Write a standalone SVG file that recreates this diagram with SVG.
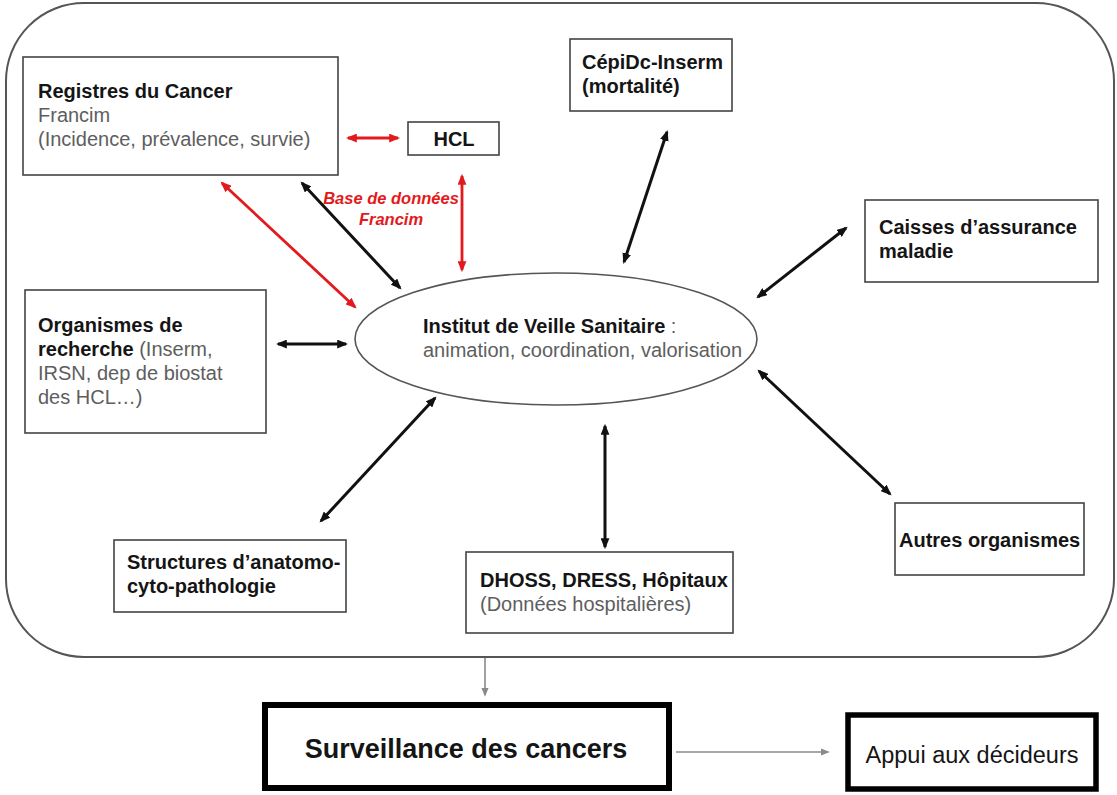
<svg xmlns="http://www.w3.org/2000/svg" width="1117" height="795" viewBox="0 0 1117 795">
<style>
text{font-family:"Liberation Sans",Arial,sans-serif;font-size:20px}
.b{font-weight:bold;fill:#151515}
.g{fill:#5e5e5e}
.box{fill:#fff;stroke:#444;stroke-width:1.6}
.thick{fill:#fff;stroke:#000;stroke-width:6}
.thick2{fill:#fff;stroke:#000;stroke-width:5.5}
.blk{stroke:#111;stroke-width:3;fill:none;marker-start:url(#ab);marker-end:url(#ab)}
.red{stroke:#e3191c;stroke-width:2.8;fill:none;marker-start:url(#ar);marker-end:url(#ar)}
.gry{stroke:#8a8a8a;stroke-width:1.6;fill:none;marker-end:url(#ag)}
.rt{font-size:16.5px;font-weight:bold;font-style:italic;fill:#e3191c}
</style>
<defs>
<marker id="ab" viewBox="0 0 10 8" refX="8" refY="4" markerWidth="11" markerHeight="9" markerUnits="userSpaceOnUse" orient="auto-start-reverse"><path d="M0,0 L10,4 L0,8 z" fill="#111"/></marker>
<marker id="ar" viewBox="0 0 10 8" refX="8" refY="4" markerWidth="11" markerHeight="9" markerUnits="userSpaceOnUse" orient="auto-start-reverse"><path d="M0,0 L10,4 L0,8 z" fill="#e3191c"/></marker>
<marker id="ag" viewBox="0 0 10 8" refX="8" refY="4" markerWidth="9" markerHeight="8" markerUnits="userSpaceOnUse" orient="auto"><path d="M0,0 L10,4 L0,8 z" fill="#8a8a8a"/></marker>
</defs>
<rect width="1117" height="795" fill="#fff"/>
<g id="frame"><rect x="6" y="3" width="1108" height="654" rx="78" ry="78" fill="none" stroke="#555" stroke-width="2"/></g>

<g id="connectors">
<path class="red" d="M348,138 L398,138"/>
<path class="red" d="M462,176 L462,270"/>
<path class="red" d="M222,183 L355,307"/>
<path class="blk" d="M302,183 L400,288"/>
<path class="blk" d="M667,132 L624,262"/>
<path class="blk" d="M846,228 L758,297"/>
<path class="blk" d="M278,344 L346,344"/>
<path class="blk" d="M321,521 L435,398"/>
<path class="blk" d="M605,426 L605,547"/>
<path class="blk" d="M890,494 L759,371"/>
<path class="gry" d="M485,658 L485,695"/>
<path class="gry" d="M676,752 L828,752"/>
</g>

<g id="label-base">
<text class="rt" x="391" y="204" text-anchor="middle">Base de données</text>
<text class="rt" x="391" y="225" text-anchor="middle">Francim</text>
</g>

<g id="registres">
<rect class="box" x="23" y="57" width="315" height="118"/>
<text class="b" x="38" y="98">Registres du Cancer</text>
<text class="g" x="38" y="122">Francim</text>
<text class="g" x="38" y="146">(Incidence, prévalence, survie)</text>
</g>

<g id="hcl">
<rect class="box" x="408" y="122" width="91" height="33"/>
<text class="b" x="454" y="146" text-anchor="middle">HCL</text>
</g>

<g id="cepidc">
<rect class="box" x="570" y="39" width="162" height="72"/>
<text class="b" x="582" y="69">CépiDc-Inserm</text>
<text class="b" x="582" y="93">(mortalité)</text>
</g>

<g id="caisses">
<rect class="box" x="865" y="200" width="233" height="82"/>
<text class="b" x="879" y="234">Caisses d’assurance</text>
<text class="b" x="879" y="258">maladie</text>
</g>

<g id="invs">
<ellipse cx="556" cy="339" rx="201" ry="66" fill="#fff" stroke="#555" stroke-width="1.6"/>
<text x="423" y="333"><tspan class="b">Institut de Veille Sanitaire</tspan><tspan class="g"> :</tspan></text>
<text class="g" x="423" y="357">animation, coordination, valorisation</text>
</g>

<g id="organismes">
<rect class="box" x="25" y="290" width="241" height="143"/>
<text class="b" x="38" y="332">Organismes de</text>
<text x="38" y="356"><tspan class="b">recherche</tspan><tspan class="g"> (Inserm,</tspan></text>
<text class="g" x="38" y="380">IRSN, dep de biostat</text>
<text class="g" x="38" y="404">des HCL…)</text>
</g>

<g id="structures">
<rect class="box" x="114" y="540" width="232" height="72"/>
<text class="b" x="127" y="569">Structures d’anatomo-</text>
<text class="b" x="127" y="593">cyto-pathologie</text>
</g>

<g id="dhoss">
<rect class="box" x="466" y="552" width="267" height="81"/>
<text class="b" x="480" y="587">DHOSS, DRESS, Hôpitaux</text>
<text class="g" x="480" y="611">(Données hospitalières)</text>
</g>

<g id="autres">
<rect class="box" x="895" y="503" width="189" height="72"/>
<text class="b" x="899" y="547">Autres organismes</text>
</g>

<g id="surveillance">
<rect class="thick" x="265" y="705" width="404" height="83"/>
<text class="b" x="466" y="758" text-anchor="middle" style="font-size:27px">Surveillance des cancers</text>
</g>

<g id="appui">
<rect class="thick2" x="848" y="715" width="248" height="74"/>
<text x="972" y="763" text-anchor="middle" style="font-size:23.5px;fill:#151515">Appui aux décideurs</text>
</g>
</svg>
